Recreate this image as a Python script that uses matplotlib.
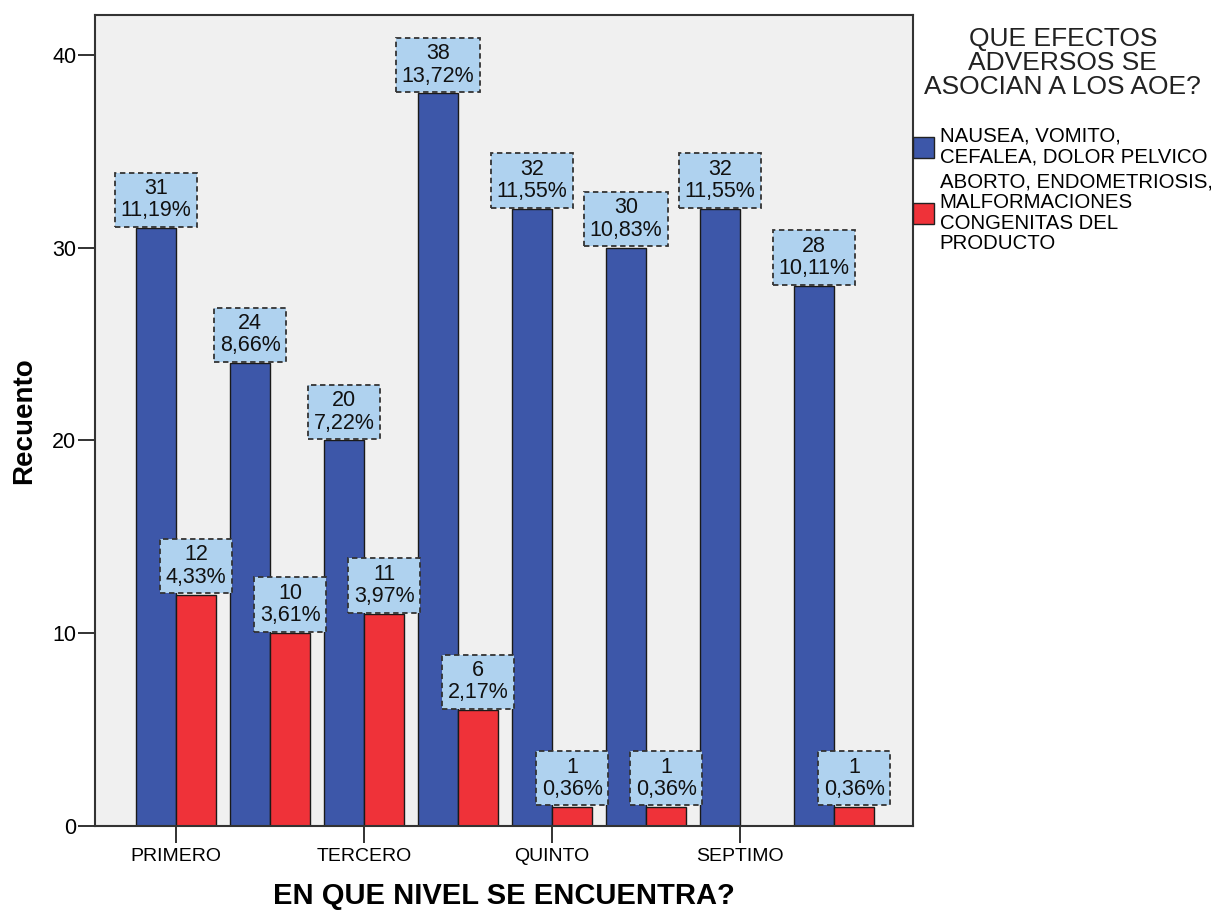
import matplotlib
matplotlib.use("Agg")
import matplotlib.pyplot as plt
from matplotlib.patches import Patch

plt.rcParams['font.family'] = ['Liberation Sans', 'DejaVu Sans']

# conteos por nivel y efecto adverso
niveles = ['PRIMERO', 'SEGUNDO', 'TERCERO', 'CUARTO', 'QUINTO', 'SEXTO', 'SEPTIMO', 'OCTAVO']
nausea = [31, 24, 20, 38, 32, 30, 32, 28]
nausea_pct = ['11,19%', '8,66%', '7,22%', '13,72%', '11,55%', '10,83%', '11,55%', '10,11%']
aborto = [12, 10, 11, 6, 1, 1, 0, 1]
aborto_pct = ['4,33%', '3,61%', '3,97%', '2,17%', '0,36%', '0,36%', '', '0,36%']

series_labels = ['NAUSEA, VOMITO,\nCEFALEA, DOLOR PELVICO',
                 'ABORTO, ENDOMETRIOSIS,\nMALFORMACIONES\nCONGENITAS DEL\nPRODUCTO']
legend_title = 'QUE EFECTOS\nADVERSOS SE\nASOCIAN A LOS AOE?'

AZUL = '#3d57a9'
ROJO = '#ef3239'
FONDO = '#f0f0f0'
CAJA = '#afd2ef'

fig = plt.figure(figsize=(12.11, 9.11), dpi=100)
ax = fig.add_axes([0.0785, 0.0933, 0.6755, 0.8902])
ax.set_facecolor(FONDO)

w = 0.425
x = list(range(len(niveles)))
xa = [i - w / 2 for i in x]
xr = [i + w / 2 for i in x]
ax.bar(xa, nausea, width=w, color=AZUL, edgecolor='#1a1a1a', linewidth=1.0, zorder=2)
ax.bar(xr, aborto, width=w, color=ROJO, edgecolor='#1a1a1a', linewidth=1.0, zorder=2)


def etiqueta(xpos, valor, pct):
    if valor == 0:
        return
    ax.annotate(f'{valor}\n{pct}', xy=(xpos, valor), xytext=(0, 5.0),
                textcoords='offset points', ha='center', va='bottom',
                fontsize=15.5, linespacing=1.08, color='#111111', zorder=4,
                bbox=dict(boxstyle='square,pad=0.26', facecolor=CAJA,
                          edgecolor='#333333', linestyle=(0, (3, 2)),
                          linewidth=1.3))


for i in x:
    etiqueta(xa[i], nausea[i], nausea_pct[i])
    etiqueta(xr[i], aborto[i], aborto_pct[i])

ax.set_xlim(-0.862, 7.84)
ax.set_ylim(0, 42.07)
ax.set_yticks([0, 10, 20, 30, 40])
ax.set_xticks(x[::2])
ax.set_xticklabels(niveles[::2])
ax.tick_params(axis='both', direction='out', length=12, width=1.3,
               color='#222222', pad=4)
ax.tick_params(axis='x', labelsize=14)
ax.tick_params(axis='y', labelsize=15.5, pad=1.5)

for s in ax.spines.values():
    s.set_color('#333333')
    s.set_linewidth(1.5)

ax.set_ylabel('Recuento', fontsize=20, fontweight='bold', labelpad=11)
ax.set_xlabel('EN QUE NIVEL SE ENCUENTRA?', fontsize=21, fontweight='bold',
              labelpad=12)

handles = [Patch(facecolor=AZUL, edgecolor='#222222'),
           Patch(facecolor=ROJO, edgecolor='#222222')]
leg = ax.legend(handles, series_labels, title=legend_title, loc='upper left',
                bbox_to_anchor=(1.0, 0.985), frameon=False, fontsize=14.7,
                title_fontsize=19, handlelength=1.0, handleheight=1.2,
                handletextpad=0.3, labelspacing=0.3, borderaxespad=0.0,
                borderpad=0.0)
for t in leg.get_texts():
    t.set_linespacing(1.1)
titulo = leg.get_title()
titulo.set_linespacing(1.0)
titulo.set_multialignment('center')
titulo.set_color('#222222')
leg._legend_box.sep = 20

fig.savefig('out.png', dpi=100, facecolor='white')
